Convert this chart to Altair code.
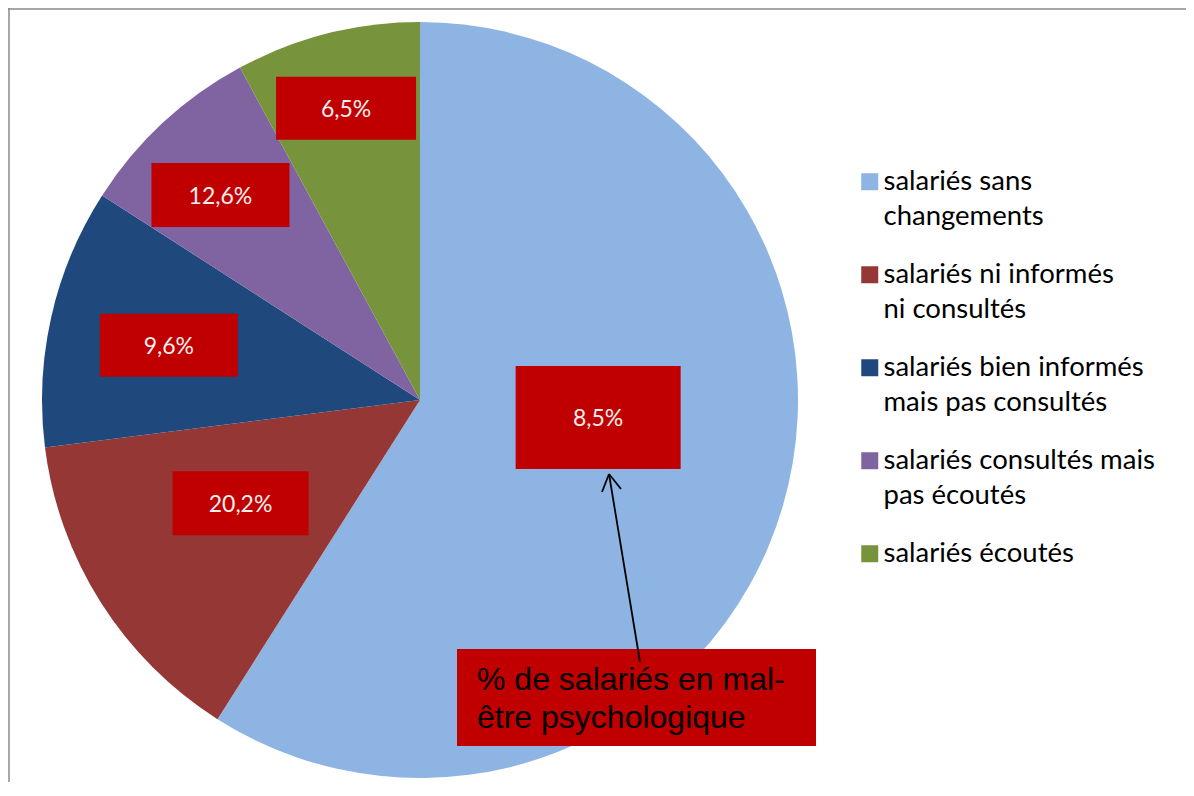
import json
import altair as alt
import pandas as pd

# ---------------- data ----------------
categories = [
    "salariés sans changements",
    "salariés ni informés ni consultés",
    "salariés bien informés mais pas consultés",
    "salariés consultés mais pas écoutés",
    "salariés écoutés",
]
legend_lines = [
    ["salariés sans", "changements"],
    ["salariés ni informés", "ni consultés"],
    ["salariés bien informés", "mais pas consultés"],
    ["salariés consultés mais", "pas écoutés"],
    ["salariés écoutés", ""],
]
shares = [59.0, 14.0, 11.1, 8.0, 7.9]
malaise = ["8,5%", "20,2%", "9,6%", "12,6%", "6,5%"]
note_lines = ["% de salariés en mal-", "être psychologique"]

# ---------------- styles / layout ----------------
colors = ["#8EB4E3", "#953735", "#1F497D", "#8064A2", "#77933C"]
BOX = "#C00000"
W, H = 1178, 774
CX, CY, R = 412, 392, 378
label_radius = [179, 207, 257, 286, 301]
label_shift = [-10.6, 2.5, -0.5, -1.4, 0.0]
box_w = [165, 136, 138, 138, 140]
box_h = [103, 64, 63, 64, 63]

df = pd.DataFrame({
    "categorie": categories,
    "part": shares,
    "malaise": malaise,
    "ordre": list(range(len(categories))),
    "lr": label_radius,
    "ls": label_shift,
    "bw": box_w,
    "bh": box_h,
})

expr = "''"
for cat, lines in reversed(list(zip(categories, legend_lines))):
    expr = f"datum.value === {json.dumps(cat, ensure_ascii=False)} ? {json.dumps(lines, ensure_ascii=False)} : ({expr})"

base = alt.Chart(df)

pie = base.mark_arc(radius=R, strokeWidth=0).encode(
    theta=alt.Theta("part:Q", stack=True),
    order=alt.Order("ordre:Q"),
    x=alt.value(CX),
    y=alt.value(CY),
    color=alt.Color(
        "categorie:N",
        scale=alt.Scale(domain=categories, range=colors),
        legend=alt.Legend(
            title=None,
            orient="none",
            legendX=848,
            legendY=160,
            symbolType="square",
            symbolSize=289,
            symbolStrokeWidth=0,
            labelFont="Lato",
            labelFontSize=27.5,
            labelColor="black",
            labelBaseline="middle",
            labelExpr=expr,
            labelOffset=0,
            labelLimit=400,
            rowPadding=29,
            padding=0,
        ),
    ),
)

lab = base.transform_window(
    cum="sum(part)", sort=[alt.SortField("ordre")], frame=[None, 0]
).transform_joinaggregate(total="sum(part)").transform_calculate(
    ang="2*PI*(datum.cum - datum.part/2)/datum.total + datum.ls*PI/180"
).transform_calculate(
    cx=f"{CX} + datum.lr*sin(datum.ang)",
    cy=f"{CY} - datum.lr*cos(datum.ang)",
).transform_calculate(
    bx1="datum.cx - datum.bw/2",
    bx2="datum.cx + datum.bw/2",
    by1="datum.cy - datum.bh/2",
    by2="datum.cy + datum.bh/2",
)

boxes = lab.mark_rect(color=BOX).encode(
    x=alt.X("bx1:Q", scale=None, axis=None),
    x2="bx2:Q",
    y=alt.Y("by1:Q", scale=None, axis=None),
    y2="by2:Q",
)
texts = lab.mark_text(font="Lato", fontSize=23, color="#F7EFEF", baseline="middle", align="center", dy=2).encode(
    x=alt.X("cx:Q", scale=None, axis=None),
    y=alt.Y("cy:Q", scale=None, axis=None),
    text="malaise:N",
)

note_df = pd.DataFrame({"note": [" ".join(note_lines)]})
note = alt.Chart(note_df)
note_box = note.mark_rect(color=BOX).encode(
    x=alt.value(449), x2=alt.value(808), y=alt.value(641), y2=alt.value(738)
)
note_txt = [
    note.mark_text(text=line, font="Liberation Sans", fontSize=32, color="black",
                   align="left", baseline="alphabetic").encode(
        x=alt.value(469), y=alt.value(682 + 38 * i)
    )
    for i, line in enumerate(note_lines)
]
arrow_style = dict(color="black", strokeWidth=1.8)
shaft = note.mark_rule(**arrow_style).encode(
    x=alt.value(632), y=alt.value(654), x2=alt.value(601), y2=alt.value(466)
)
arm1 = note.mark_rule(**arrow_style).encode(
    x=alt.value(601), y=alt.value(466), x2=alt.value(594), y2=alt.value(484)
)
arm2 = note.mark_rule(**arrow_style).encode(
    x=alt.value(601), y=alt.value(466), x2=alt.value(613), y2=alt.value(481)
)
border_style = dict(color="#8A8A8A", strokeWidth=1.5)
border_left = note.mark_rule(**border_style).encode(
    x=alt.value(1), x2=alt.value(1), y=alt.value(0), y2=alt.value(H)
)
border_top = note.mark_rule(**border_style).encode(
    x=alt.value(0), x2=alt.value(W), y=alt.value(1), y2=alt.value(1)
)

chart = alt.layer(
    pie, boxes, texts, note_box, *note_txt, shaft, arm1, arm2, border_left, border_top
).properties(
    width=W, height=H, padding=0, autosize=alt.AutoSizeParams(type="none")
).configure(
    background="white",
    style={"guide-label": {"lineHeight": 35}},
).configure_view(stroke=None)

chart.save("out.html", embed_options={"renderer": "svg", "actions": False})
